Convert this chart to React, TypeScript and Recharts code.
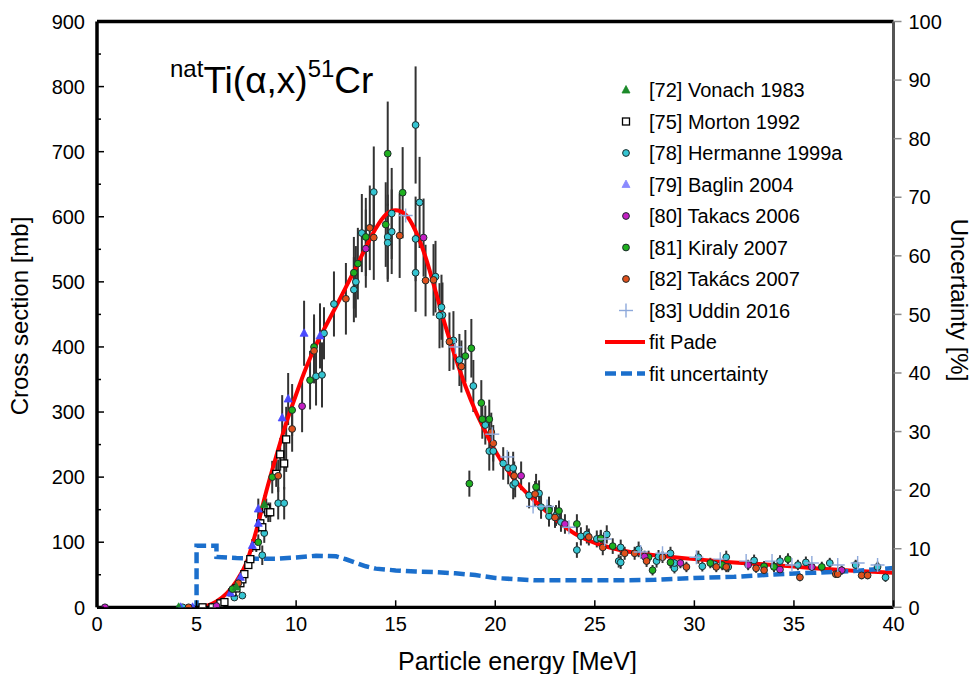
import React from 'react';
import { ComposedChart, XAxis, YAxis, Scatter, Line, ErrorBar, ReferenceLine } from 'recharts';

const FONT = 'Arial, "Liberation Sans", Helvetica, sans-serif';

const energyTicks = [0, 5, 10, 15, 20, 25, 30, 35, 40];
const sectionTicks = [0, 50, 100, 150, 200, 250, 300, 350, 400, 450, 500, 550, 600, 650, 700, 750, 800, 850, 900];
const uncertaintyTicks = [0, 10, 20, 30, 40, 50, 60, 70, 80, 90, 100];

type Pt = [number, number, number];
type Pair = [number, number];

const fitPade: Pair[] = [
  [5, 0], [5.5, 2], [6, 9], [6.5, 21], [7, 40], [7.5, 68], [8, 118], [8.5, 178], [9, 232], [9.5, 283],
  [10, 327], [10.5, 368], [11, 403], [11.5, 433], [12, 462], [12.5, 492], [13, 522], [13.5, 553], [14, 582],
  [14.5, 603], [15, 610], [15.5, 603], [16, 578], [16.5, 538], [17, 486], [17.5, 432], [18, 384], [18.5, 340],
  [19, 302], [19.5, 270], [20, 240], [21, 195], [22, 163], [23, 136], [24, 113], [25, 99], [26, 90], [27, 84],
  [28, 80], [29, 77], [30, 74], [32, 69], [34, 65], [36, 60], [38, 56], [40, 53],
];

const fitUncertainty: Pair[] = [
  [4, 0], [5, 0], [5, 10.5], [6, 10.5], [6, 8.6], [7, 8.4], [8, 8.3], [9, 8.3], [10, 8.5], [11, 8.8],
  [12, 8.7], [12.5, 8.2], [13, 7.6], [13.5, 7.0], [14, 6.6], [15, 6.3], [16, 6.1], [17, 6.0], [18, 5.8],
  [19, 5.5], [20, 5.0], [21, 4.8], [22, 4.6], [24, 4.6], [26, 4.6], [28, 4.7], [30, 5.0], [32, 5.2],
  [34, 5.6], [36, 5.9], [38, 6.2], [40, 6.7],
];

const vonach1983: Pt[] = [[4.1, 0, 0], [7.0, 31, 4], [8.4, 158, 14]];

const morton1992: Pt[] = [
  [5.3, 0, 0], [5.8, 0, 1], [6.2, 6, 2], [6.4, 8, 2], [6.8, 23, 3], [7.0, 29, 4], [7.2, 37, 4], [7.3, 43, 5],
  [7.4, 51, 5], [7.6, 65, 6], [7.7, 74, 7], [8.0, 94, 9], [8.2, 129, 12], [8.3, 123, 12], [8.5, 152, 15],
  [8.6, 146, 15], [8.7, 146, 15], [9.0, 205, 20], [9.2, 235, 25], [9.4, 221, 40], [9.5, 258, 50],
];

const hermanne1999a: Pt[] = [
  [4.3, 0, 0], [6.9, 15, 4], [7.3, 18, 4], [8.3, 80, 15], [8.4, 114, 15], [9.1, 160, 25], [9.4, 160, 25],
  [11.0, 355, 45], [11.3, 357, 50], [11.4, 421, 40], [11.9, 466, 50], [12.9, 488, 50], [13.0, 500, 55],
  [13.3, 575, 60], [13.9, 638, 70], [14.6, 569, 65], [14.6, 560, 60], [14.8, 577, 65], [14.8, 605, 70],
  [16.0, 741, 90], [16.0, 566, 65], [16.0, 514, 60], [16.2, 622, 70], [17.0, 508, 55], [17.3, 461, 50],
  [17.35, 449, 50], [17.2, 448, 50], [17.9, 410, 45], [18.2, 380, 40], [18.9, 340, 40], [19.5, 280, 30],
  [19.7, 240, 30], [19.9, 240, 30], [20.4, 221, 25], [20.65, 214, 25], [20.9, 214, 25], [20.9, 188, 22],
  [21.0, 191, 22], [21.7, 172, 20], [22.2, 175, 20], [22.3, 154, 18], [22.7, 152, 18], [22.7, 140, 16],
  [23.05, 141, 16], [23.3, 131, 15], [24.3, 109, 14], [24.1, 88, 12], [24.6, 112, 14], [25.1, 105, 13],
  [25.3, 106, 13], [25.6, 112, 14], [26.3, 92, 12], [26.2, 71, 10], [26.3, 69, 10], [27.2, 89, 12],
  [28.1, 71, 10], [28.2, 78, 10], [28.8, 83, 10], [29.0, 60, 8], [29.0, 68, 8], [30.2, 77, 10],
  [30.4, 63, 8], [31.0, 66, 8], [31.6, 77, 10], [31.7, 62, 8], [33.0, 72, 9], [34.0, 63, 8], [34.3, 71, 9],
  [35.2, 65, 8], [35.6, 69, 9], [36.8, 68, 8], [38.1, 65, 8], [39.2, 62, 8], [39.6, 46, 7],
];

const baglin2004: Pt[] = [
  [4.2, 0, 0], [4.8, 0, 0], [6.7, 22, 4], [7.2, 46, 6], [7.8, 95, 10], [8.1, 129, 14], [8.1, 151, 16],
  [9.3, 291, 35], [9.6, 320, 40], [10.4, 421, 50], [11.2, 417, 50],
];

const takacs2006: Pt[] = [
  [0.4, 0, 0], [6.0, 2, 1], [10.3, 309, 40], [13.5, 551, 60], [16.4, 568, 60], [21.3, 202, 22],
  [23.5, 128, 15], [27.5, 78, 9], [29.3, 68, 8], [32.7, 65, 8], [34.3, 58, 7], [35.9, 62, 7], [37.4, 57, 7],
];

const kiraly2007: Pt[] = [
  [6.8, 28, 5], [8.1, 100, 12], [8.8, 200, 25], [9.8, 303, 40], [10.7, 349, 45], [10.9, 400, 50],
  [12.9, 514, 55], [13.1, 528, 55], [13.5, 569, 60], [14.5, 588, 65], [14.6, 697, 80], [15.35, 637, 70],
  [18.5, 386, 40], [18.8, 398, 45], [18.7, 190, 20], [19.3, 314, 35], [19.35, 289, 30], [19.7, 289, 30],
  [22.05, 185, 20], [22.7, 149, 18], [23.2, 148, 16], [24.1, 128, 15], [25.3, 106, 12], [25.9, 94, 12],
  [27.7, 77, 10], [27.9, 57, 8], [28.8, 69, 9], [30.8, 68, 8], [31.4, 65, 8], [33.5, 63, 8], [34.0, 62, 8],
  [34.7, 74, 9], [36.4, 62, 8],
];

const takacs2007: Pt[] = [
  [4.6, 0, 0], [7.1, 37, 6], [9.1, 202, 25], [9.8, 274, 35], [10.9, 394, 50], [12.5, 474, 55],
  [13.7, 583, 65], [13.9, 568, 65], [15.2, 571, 65], [16.5, 502, 55], [16.9, 503, 55], [17.7, 408, 45],
  [18.3, 370, 40], [19.8, 269, 30], [19.9, 252, 28], [20.95, 202, 22], [22.0, 174, 20], [23.0, 138, 16],
  [24.7, 108, 13], [25.4, 92, 12], [26.5, 83, 10], [27.0, 83, 10], [27.6, 71, 9], [28.4, 77, 9],
  [29.6, 62, 8], [31.1, 62, 8], [31.6, 62, 8], [33.1, 60, 7], [33.5, 57, 7], [35.3, 46, 6], [37.1, 51, 6],
  [37.2, 51, 6], [38.4, 49, 6], [38.7, 49, 6],
];

const uddin2016: Pair[] = [
  [15.5, 602], [18.0, 400], [19.85, 266], [20.6, 231], [21.9, 155], [22.6, 155], [23.7, 123], [25.5, 105],
  [27.3, 85], [28.4, 83], [30.1, 77], [31.3, 74], [32.6, 71], [33.9, 71], [34.9, 65], [35.9, 68], [37.2, 65],
  [38.2, 68], [39.2, 65],
];

const rowsErr = (arr: Pt[]) => arr.map(([x, y, err]) => ({ x, y, err }));
const rows = (arr: Pair[]) => arr.map(([x, y]) => ({ x, y }));

const C_CYAN = '#35c5d2';
const C_GREEN = '#1fb01f';
const C_ORANGE = '#e0501c';
const C_MAGENTA = '#c41fc4';
const C_BLUE = '#4a4aff';
const C_VONACH = '#1c8a2a';
const C_UDDIN = '#8ea9db';
const C_RED = '#ff0000';
const C_DASH = '#1b6fcc';

const circle = (fill: string) => (p: any) => (
  <circle cx={p.cx} cy={p.cy} r={3.4} fill={fill} stroke="#1d2b2b" strokeWidth={1} />
);
const square = () => (p: any) => (
  <rect x={p.cx - 3.5} y={p.cy - 3.5} width={7} height={7} fill="#fff" stroke="#000" strokeWidth={1.3} />
);
const triangle = (fill: string) => (p: any) => (
  <polygon points={`${p.cx},${p.cy - 4.5} ${p.cx - 4},${p.cy + 3} ${p.cx + 4},${p.cy + 3}`} fill={fill} stroke={fill} strokeWidth={0.8} />
);
const plus = (color: string) => (p: any) => (
  <g stroke={color} strokeWidth={1.4}>
    <line x1={p.cx - 7} x2={p.cx + 7} y1={p.cy} y2={p.cy} />
    <line x1={p.cx} x2={p.cx} y1={p.cy - 7} y2={p.cy + 7} />
  </g>
);

const LeftTick = (props: any) => {
  const { x, y, payload } = props;
  const v = payload.value;
  const major = v % 100 === 0;
  const ax = x + 12;
  return (
    <g>
      <line x1={ax} x2={ax + (major ? 7 : 4)} y1={y} y2={y} stroke="#000" strokeWidth={1.5} />
      {major && (
        <text x={x} y={y} dy="0.36em" textAnchor="end" fontSize={20} fontFamily={FONT} fill="#000">{v}</text>
      )}
    </g>
  );
};

const BottomTick = (props: any) => {
  const { x, y, payload } = props;
  const ay = y - 9;
  return (
    <g>
      <line x1={x} x2={x} y1={ay} y2={ay - 7} stroke="#000" strokeWidth={1.5} />
      <text x={x} y={y} dy="0.72em" textAnchor="middle" fontSize={20} fontFamily={FONT} fill="#000">{payload.value}</text>
    </g>
  );
};

const RightTick = (props: any) => {
  const { x, y, payload } = props;
  const ax = x - 15;
  return (
    <g>
      <line x1={ax} x2={ax + 8} y1={y} y2={y} stroke="#8a8a8a" strokeWidth={1.5} />
      <text x={x} y={y} dy="0.36em" textAnchor="start" fontSize={20} fontFamily={FONT} fill="#000">{payload.value}</text>
    </g>
  );
};

const legendItems = [
  { label: '[72] Vonach 1983', shape: triangle(C_VONACH) },
  { label: '[75] Morton 1992', shape: square() },
  { label: '[78] Hermanne 1999a', shape: circle(C_CYAN) },
  { label: '[79] Baglin 2004', shape: triangle('#8a8aff') },
  { label: '[80] Takacs 2006', shape: circle(C_MAGENTA) },
  { label: '[81] Kiraly 2007', shape: circle(C_GREEN) },
  { label: '[82] Takács 2007', shape: circle(C_ORANGE) },
  { label: '[83] Uddin 2016', shape: plus(C_UDDIN) },
];

export default function App() {
  const W = 961;
  const H = 658;
  const rowY0 = 90;
  const rowStep = 31.5;
  return (
    <div style={{ position: 'relative', width: 977, height: 674, overflow: 'hidden' }}>
      <style>{'html,body{margin:0;padding:0;overflow:hidden;}'}</style>
      <div style={{ position: 'absolute', left: 8, top: 8, width: W, height: H }}>
        <ComposedChart
          width={W}
          height={H}
          margin={{ top: 13.5, right: 15.5, bottom: 28.7, left: 29 }}
        >
          <XAxis
            type="number"
            dataKey="x"
            domain={[0, 40]}
            ticks={energyTicks}
            interval={0}
            tickSize={0}
            tickMargin={9}
            height={30}
            tick={<BottomTick />}
            axisLine={{ stroke: '#000', strokeWidth: 3.3 }}
            allowDataOverflow
          />
          <YAxis
            yAxisId="left"
            type="number"
            domain={[0, 900]}
            ticks={sectionTicks}
            interval={0}
            tickSize={0}
            tickMargin={12}
            width={60}
            tick={<LeftTick />}
            axisLine={{ stroke: '#000', strokeWidth: 3.5 }}
            allowDataOverflow
          />
          <YAxis
            yAxisId="right"
            orientation="right"
            type="number"
            domain={[0, 100]}
            ticks={uncertaintyTicks}
            interval={0}
            tickSize={0}
            tickMargin={15}
            width={60}
            tick={<RightTick />}
            axisLine={{ stroke: '#555', strokeWidth: 3 }}
            allowDataOverflow
          />
          <ReferenceLine yAxisId="left" y={900} stroke="#000" strokeWidth={3.3} />

          <Scatter yAxisId="left" name="Hermanne" data={rowsErr(hermanne1999a)} dataKey="y" shape={circle(C_CYAN)} isAnimationActive={false}>
            <ErrorBar dataKey="err" direction="y" width={0} stroke="#333" strokeWidth={2} />
          </Scatter>
          <Scatter yAxisId="left" name="Morton" data={rowsErr(morton1992)} dataKey="y" shape={square()} isAnimationActive={false}>
            <ErrorBar dataKey="err" direction="y" width={0} stroke="#333" strokeWidth={2} />
          </Scatter>
          <Scatter yAxisId="left" name="Baglin" data={rowsErr(baglin2004)} dataKey="y" shape={triangle(C_BLUE)} isAnimationActive={false}>
            <ErrorBar dataKey="err" direction="y" width={0} stroke="#333" strokeWidth={2} />
          </Scatter>
          <Scatter yAxisId="left" name="Kiraly" data={rowsErr(kiraly2007)} dataKey="y" shape={circle(C_GREEN)} isAnimationActive={false}>
            <ErrorBar dataKey="err" direction="y" width={0} stroke="#333" strokeWidth={2} />
          </Scatter>
          <Scatter yAxisId="left" name="Takacs2006" data={rowsErr(takacs2006)} dataKey="y" shape={circle(C_MAGENTA)} isAnimationActive={false}>
            <ErrorBar dataKey="err" direction="y" width={0} stroke="#333" strokeWidth={2} />
          </Scatter>
          <Scatter yAxisId="left" name="Takacs2007" data={rowsErr(takacs2007)} dataKey="y" shape={circle(C_ORANGE)} isAnimationActive={false}>
            <ErrorBar dataKey="err" direction="y" width={0} stroke="#333" strokeWidth={2} />
          </Scatter>
          <Scatter yAxisId="left" name="Vonach" data={rowsErr(vonach1983)} dataKey="y" shape={triangle(C_VONACH)} isAnimationActive={false}>
            <ErrorBar dataKey="err" direction="y" width={0} stroke="#333" strokeWidth={2} />
          </Scatter>
          <Scatter yAxisId="left" name="Uddin" data={rows(uddin2016)} dataKey="y" shape={plus(C_UDDIN)} isAnimationActive={false} />

          <Line yAxisId="left" data={rows(fitPade)} dataKey="y" type="monotone" stroke={C_RED} strokeWidth={4} dot={false} activeDot={false} isAnimationActive={false} />
          <Line yAxisId="right" data={rows(fitUncertainty)} dataKey="y" type="linear" stroke={C_DASH} strokeWidth={4.5} strokeDasharray="11 5" dot={false} activeDot={false} isAnimationActive={false} />
        </ComposedChart>
      </div>

      <svg width={977} height={674} style={{ position: 'absolute', left: 0, top: 0, pointerEvents: 'none' }}>
        <text x={170} y={93} fontSize={37} fontFamily={FONT} fill="#000">
          <tspan fontSize={24} dy={-16}>nat</tspan>
          <tspan dy={16}>Ti(α,x)</tspan>
          <tspan fontSize={24} dy={-16}>51</tspan>
          <tspan dy={16}>Cr</tspan>
        </text>

        {legendItems.map((it, i) => {
          const cy = rowY0 + i * rowStep;
          return (
            <g key={it.label}>
              {it.shape({ cx: 626, cy })}
              <text x={649} y={cy} dy="0.36em" fontSize={20} fontFamily={FONT} fill="#000">{it.label}</text>
            </g>
          );
        })}
        <line x1={605} x2={645} y1={rowY0 + 8 * rowStep} y2={rowY0 + 8 * rowStep} stroke={C_RED} strokeWidth={4} />
        <text x={649} y={rowY0 + 8 * rowStep} dy="0.36em" fontSize={20} fontFamily={FONT} fill="#000">fit Pade</text>
        <line x1={605} x2={645} y1={rowY0 + 9 * rowStep} y2={rowY0 + 9 * rowStep} stroke={C_DASH} strokeWidth={4.5} strokeDasharray="11 5" />
        <text x={649} y={rowY0 + 9 * rowStep} dy="0.36em" fontSize={20} fontFamily={FONT} fill="#000">fit uncertainty</text>

        <text x={398} y={670} fontSize={25} fontFamily={FONT} fill="#000">Particle energy [MeV]</text>
        <text transform="translate(28,316) rotate(-90)" textAnchor="middle" fontSize={24} fontFamily={FONT} fill="#000">Cross section [mb]</text>
        <text transform="translate(951,300) rotate(90)" textAnchor="middle" fontSize={24} fontFamily={FONT} fill="#000">Uncertainty [%]</text>
      </svg>
    </div>
  );
}
